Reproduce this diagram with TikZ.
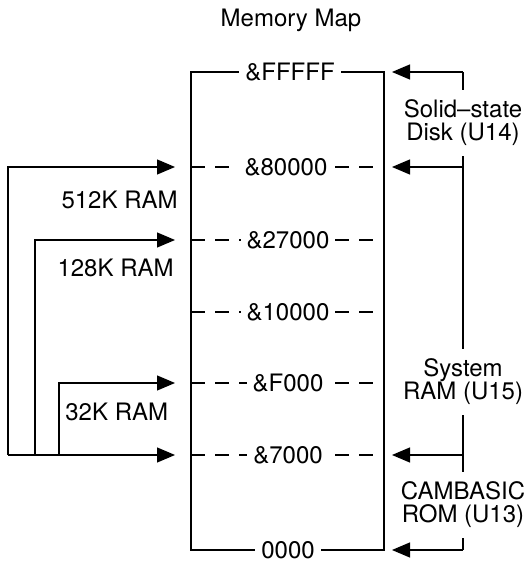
\documentclass[tikz,border=0pt]{standalone}
\usepackage{fontspec}
\setmainfont{TeX Gyre Heros}
\usetikzlibrary{arrows.meta}

\begin{document}
\begin{tikzpicture}[
        x=0.5pt, y=0.5pt,
        font=\fontsize{12}{11.5}\selectfont,
        addr/.style={fill=white, inner xsep=3pt, inner ysep=1pt},
        chip/.style={fill=white, align=center, inner xsep=0pt, inner ysep=5pt},
        sizelbl/.style={inner sep=0pt},
        bound/.style={line width=0.6pt},
        row/.style={line width=0.6pt, dash pattern=on 7pt off 5pt},
        ptr/.style={-{Triangle[length=9pt,width=7.5pt]}, line width=0.6pt}
    ]
        \useasboundingbox (0,0) rectangle (530,561);
        \node (title) at (291,541) {Memory Map};

        % --- memory block with address rows ---
        \draw[bound] (191,11) rectangle (384,489);
        \foreach \y/\n in {394/80000, 321/27000, 249/10000, 178/F000, 106/7000} {
            \coordinate (L\n) at (191,\y);
            \coordinate (R\n) at (384,\y);
            \draw[row] (L\n) -- (R\n);
        }
        \coordinate (LFFFFF) at (191,489);
        \coordinate (RFFFFF) at (384,489);
        \coordinate (L0000) at (191,11);
        \coordinate (R0000) at (384,11);
        \node[addr] (aFFFFF) at (290,489) {\&FFFFF};
        \node[addr] (a80000) at (286,394) {\&80000};
        \node[addr] (a27000) at (288,321) {\&27000};
        \node[addr] (a10000) at (288,249) {\&10000};
        \node[addr] (aF000)  at (288,178) {\&F000};
        \node[addr] (a7000)  at (288,106) {\&7000};
        \node[addr] (a0000)  at (288,11) {0000};

        % --- chips on the right ---
        \coordinate (top) at (463,489);
        \coordinate (bot) at (463,11);
        \coordinate (k80000) at (463,394);
        \coordinate (k7000) at (463,106);
        \node[chip] (ssd) at (463,438) {Solid--state\\Disk (U14)};
        \node[chip] (sys) at (463,179) {System\\RAM (U15)};
        \node[chip] (rom) at (463,56) {CAMBASIC\\ROM (U13)};
        \draw[bound] (top) -- (ssd.north);
        \draw[bound] (ssd.south) -- (sys.north);
        \draw[bound] (sys.south) -- (rom.north);
        \draw[bound] (rom.south) -- (bot);
        \draw[ptr, shorten >=4pt] (top) -- (RFFFFF);
        \draw[ptr, shorten >=4pt] (k80000) -- (R80000);
        \draw[ptr, shorten >=4pt] (k7000) -- (R7000);
        \draw[ptr, shorten >=4pt] (bot) -- (R0000);

        % --- RAM sizes on the left ---
        \coordinate (k512) at (8,106);
        \coordinate (k128) at (35,106);
        \coordinate (k32) at (59,106);
        \draw[ptr, shorten >=8pt] (k512) |- (L80000);
        \draw[ptr, shorten >=8pt] (k128) |- (L27000);
        \draw[ptr, shorten >=8pt] (k32) |- (LF000);
        \draw[ptr, shorten >=8pt] (k512) -- (L7000);
        \node[sizelbl, anchor=east] (ram512) at (178,361) {512K RAM};
        \node[sizelbl, anchor=east] (ram128) at (174,293) {128K RAM};
        \node[sizelbl, anchor=west] (ram32) at (65,149) {32K RAM};
    \end{tikzpicture}
\end{document}
